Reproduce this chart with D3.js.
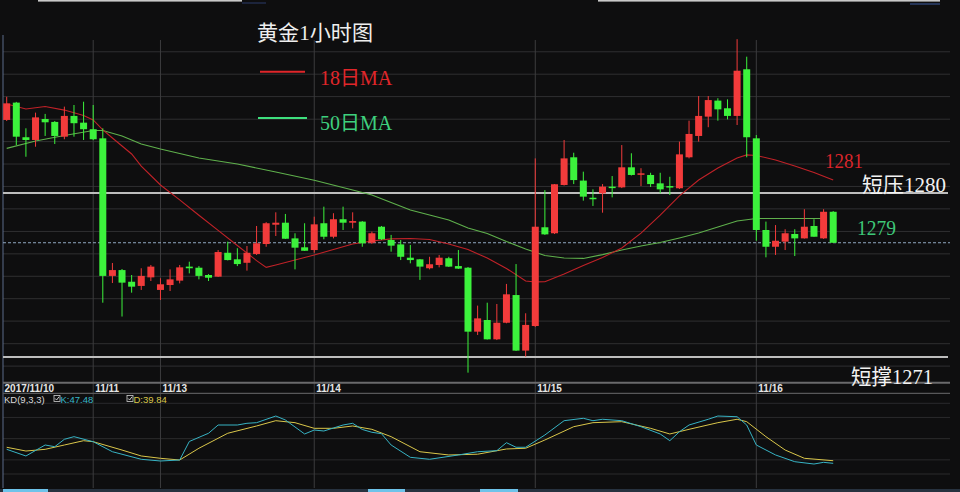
<!DOCTYPE html>
<html><head><meta charset="utf-8">
<script src="https://cdn.jsdelivr.net/npm/d3@7"></script>
<style>html,body{margin:0;padding:0;background:#0e0e0f;overflow:hidden}</style>
</head><body><svg id="c" width="960" height="492"></svg>
<script>
// ---------- data ----------
const opens  = [1284.01,1284.96,1283.06,1282.91,1284.06,1283.90,1283.09,1284.23,1283.86,1283.50,
                1283.00,1275.45,1275.77,1275.13,1274.90,1275.37,1274.68,1274.95,1275.19,1275.96,
                1275.90,1275.50,1275.41,1276.72,1276.36,1276.17,1276.65,1277.20,1278.26,1278.37,
                1277.51,1277.02,1276.87,1278.34,1277.60,1278.56,1278.37,1278.43,1277.27,1278.15,
                1277.42,1277.18,1276.45,1276.36,1275.87,1276.05,1276.42,1275.99,1275.90,1272.39,
                1273.03,1271.97,1272.88,1274.40,1271.35,1272.70,1278.12,1277.79,1280.44,1281.96,
                1280.68,1279.74,1279.98,1280.35,1280.31,1281.41,1281.03,1280.99,1280.53,1280.38,
                1280.26,1281.96,1283.13,1284.19,1285.07,1284.65,1284.23,1286.79,1283.00,1277.97,
                1277.05,1277.33,1277.75,1277.51,1278.19,1277.51,1278.97];
const highs  = [1285.28,1285.00,1283.55,1284.41,1284.34,1283.95,1284.74,1284.83,1285.01,1284.83,
                1283.55,1276.16,1275.83,1275.50,1275.87,1276.05,1275.32,1275.81,1276.05,1276.23,
                1275.99,1275.55,1276.87,1277.33,1276.97,1277.09,1278.19,1278.40,1278.94,1278.85,
                1277.79,1278.34,1278.70,1279.25,1278.89,1279.25,1278.94,1278.46,1277.88,1278.19,
                1277.70,1277.42,1277.15,1276.38,1276.50,1276.60,1276.50,1276.87,1275.94,1273.82,
                1273.98,1273.91,1275.01,1276.10,1273.40,1281.90,1280.16,1280.49,1282.91,1282.21,
                1281.17,1280.20,1280.49,1280.93,1282.63,1282.18,1281.36,1281.11,1281.11,1280.89,
                1282.82,1283.97,1285.32,1285.32,1285.20,1285.14,1288.44,1287.48,1283.18,1278.43,
                1278.24,1278.01,1278.01,1279.11,1278.56,1279.11,1279.01];
const lows   = [1283.95,1282.63,1281.99,1282.54,1283.13,1282.69,1282.95,1283.09,1282.91,1282.90,
                1273.98,1275.06,1273.22,1274.53,1274.68,1275.17,1274.13,1274.62,1275.04,1275.59,
                1275.26,1275.17,1275.39,1276.30,1275.99,1275.74,1276.60,1277.05,1277.64,1277.48,
                1275.81,1276.82,1276.72,1277.46,1277.51,1277.97,1278.06,1277.05,1277.20,1277.42,
                1276.78,1276.32,1276.14,1275.23,1275.81,1275.92,1275.94,1275.83,1270.14,1272.21,
                1271.96,1271.93,1272.85,1271.33,1271.02,1272.65,1277.70,1277.75,1280.41,1280.49,
                1279.58,1279.29,1278.92,1279.76,1280.27,1280.96,1280.38,1280.33,1279.98,1279.89,
                1280.22,1281.90,1282.82,1283.61,1283.97,1284.04,1283.73,1281.96,1277.38,1276.47,
                1276.60,1276.87,1276.54,1277.50,1277.60,1277.48,1277.26];
const closes = [1284.92,1283.09,1282.91,1284.15,1283.88,1283.13,1284.23,1283.83,1283.50,1282.95,
                1275.45,1275.77,1275.08,1274.86,1275.45,1275.96,1274.99,1275.26,1275.92,1275.87,
                1275.45,1275.35,1276.76,1276.32,1276.10,1276.72,1277.24,1278.34,1278.37,1277.49,
                1277.00,1276.83,1278.28,1277.60,1278.56,1278.37,1278.46,1277.24,1277.79,1277.46,
                1277.11,1276.50,1276.32,1275.96,1276.09,1276.45,1275.96,1275.85,1272.39,1273.12,
                1271.97,1272.88,1274.44,1271.35,1272.76,1278.15,1277.73,1280.48,1281.90,1280.71,
                1279.80,1279.69,1280.35,1280.31,1281.41,1280.99,1281.08,1280.49,1280.20,1280.35,
                1282.12,1283.24,1284.23,1285.10,1284.59,1284.23,1286.71,1283.06,1277.97,1277.05,
                1277.38,1277.79,1277.51,1278.15,1277.60,1278.97,1277.27];

const dateTickIdx = [0, 9, 16, 32, 55, 78];
const dateLabels  = ["2017/11/10", "11/11", "11/13", "11/14", "11/15", "11/16"];

const ma18Idx = [0,2,4,6,8,9,10,11,12,13,14,16,18,20,22,24,26,27,28,30,32,34,36,38,40,42,44,46,48,50,52,54,55,56,58,60,62,64,66,68,70,72,74,76,77,78,80,82,84,86];
const ma18    = [1284.88,1284.61,1284.75,1284.55,1284.25,1284.01,1283.46,1283.02,1282.58,1282.14,1281.48,1280.44,1279.62,1278.78,1277.95,1277.12,1276.29,1275.92,1276.05,1276.32,1276.60,1276.90,1277.20,1277.37,1277.48,1277.50,1277.45,1277.20,1276.90,1276.43,1275.86,1275.17,1275.12,1275.13,1275.55,1276.02,1276.46,1276.98,1277.80,1278.79,1279.84,1280.71,1281.37,1281.92,1282.09,1282.06,1281.81,1281.48,1281.13,1280.71];

const ma50Idx = [0,3,6,9,10,12,14,16,20,24,28,32,36,38,40,42,44,46,48,50,52,54,56,58,60,62,64,66,68,70,72,74,76,78,80,83,85];
const ma50    = [1282.45,1282.85,1283.16,1283.43,1283.43,1283.13,1282.69,1282.41,1281.92,1281.59,1281.15,1280.70,1280.16,1279.89,1279.48,1279.07,1278.79,1278.52,1278.08,1277.78,1277.34,1276.93,1276.57,1276.43,1276.41,1276.62,1276.87,1277.09,1277.28,1277.53,1277.80,1278.13,1278.46,1278.60,1278.60,1278.60,1278.60];

const kIdx  = [0,2,4,5,6,7,9,11,14,16,18,19,21,22,24,25,26,28,29,31,32,33,35,36,37,38,39,40,42,44,47,49,51,52,53,54,56,58,60,61,62,64,66,68,69,70,71,73,74,76,77,78,80,82,84,85,86];
const kVals = [34.9,25.5,41.0,38.6,49.1,52.8,45.7,31.5,20.8,18.4,19.8,46.0,57.6,69.3,69.3,71.7,72.6,82.0,76.4,56.6,62.2,60.8,69.3,71.7,63.0,59.0,57.0,41.0,23.6,20.8,26.9,31.5,33.0,44.3,37.8,37.8,55.2,75.4,78.8,75.4,77.4,75.4,66.9,56.6,47.1,59.8,69.3,77.4,82.0,81.0,69.3,41.0,26.9,17.4,14.1,16.5,15.1];
const dIdx  = [0,2,4,6,8,9,12,14,16,18,20,23,26,28,30,32,34,36,38,40,43,46,49,52,54,56,59,61,64,67,69,71,74,76,77,79,81,83,86];
const dVals = [37.8,32.5,34.9,41.0,47.1,45.7,33.9,25.5,22.2,19.8,36.4,57.6,67.9,75.4,72.6,64.6,64.6,67.9,63.2,52.8,31.5,26.9,28.0,35.4,36.4,48.1,66.9,72.6,74.0,64.6,56.6,63.2,72.6,77.4,74.0,52.8,33.9,22.2,18.8];

const priceGrid = [1287.75,1286.52,1285.29,1284.05,1282.82,1281.59,1280.36,1279.13,1277.89,1276.66,1275.43,1274.20,1272.97,1271.73,1270.50];
const kdGrid = [0, 20, 50, 80, 100];
const resistance = 1280, support = 1271;
const labelMA18 = 1281, labelMA50 = 1279;

// ---------- drawing ----------
const svg = d3.select("#c");
svg.append("rect").attr("width",960).attr("height",492).attr("fill","#0e0e0f");

const L = 3, R = 950;
const x = d3.scaleLinear().domain([0, closes.length-1]).range([6.7, 833.2]);
const y = d3.scaleLinear().domain([support, resistance]).range([357, 193]);
const ky = d3.scaleLinear().domain([0,100]).range([474, 403.3]);

// top decoration bars
svg.append("rect").attr("x",38).attr("y",0).attr("width",204).attr("height",1.6).attr("fill","#c8c8c8");
svg.append("rect").attr("x",242).attr("y",2.5).attr("width",24).attr("height",1).attr("fill","#2a3a6a");
svg.append("rect").attr("x",598).attr("y",0).attr("width",342).attr("height",1.6).attr("fill","#c8c8c8");
svg.append("rect").attr("x",910).attr("y",3.5).attr("width",30).attr("height",1).attr("fill","#3a5aa0");

// price grid
svg.append("g").selectAll("line").data(priceGrid).join("line")
  .attr("x1",L).attr("x2",R).attr("y1",d=>y(d)).attr("y2",d=>y(d))
  .attr("stroke","#2f2f31").attr("stroke-width",1);
// kd grid
svg.append("g").selectAll("line").data(kdGrid).join("line")
  .attr("x1",L).attr("x2",R).attr("y1",d=>ky(d)).attr("y2",d=>ky(d))
  .attr("stroke","#2a2a2c").attr("stroke-width",1);

// vertical date lines
svg.append("g").selectAll("line").data(dateTickIdx.slice(1)).join("line")
  .attr("x1",d=>x(d)).attr("x2",d=>x(d)).attr("y1",40).attr("y2",488)
  .attr("stroke","#3c3c3e").attr("stroke-width",1);
svg.append("line").attr("x1",L).attr("x2",L).attr("y1",35).attr("y2",488)
  .attr("stroke","#5a6a8a").attr("stroke-width",1);

// separator lines around date axis
svg.append("line").attr("x1",L).attr("x2",R).attr("y1",382.7).attr("y2",382.7).attr("stroke","#6a6a6c").attr("stroke-width",2);
svg.append("line").attr("x1",L).attr("x2",R).attr("y1",393.3).attr("y2",393.3).attr("stroke","#58585a").attr("stroke-width",1.3);

// support / resistance
[resistance, support].forEach(v=>{
  svg.append("line").attr("x1",L).attr("x2",R-2).attr("y1",y(v)).attr("y2",y(v))
    .attr("stroke","#bdbdbd").attr("stroke-width",2);
});

// current price dashed
svg.append("line").attr("x1",L).attr("x2",R).attr("y1",y(closes[closes.length-1])).attr("y2",y(closes[closes.length-1]))
  .attr("stroke","#8fa6bf").attr("stroke-width",1).attr("stroke-dasharray","3,2");

// MA lines
const ma18Line = d3.line().x((d,i)=>x(ma18Idx[i])).y(d=>y(d));
const ma50Line = d3.line().x((d,i)=>x(ma50Idx[i])).y(d=>y(d));
svg.append("path").attr("d",ma50Line(ma50)).attr("fill","none").attr("stroke","#5fb04c").attr("stroke-width",1.1);
svg.append("path").attr("d",ma18Line(ma18)).attr("fill","none").attr("stroke","#c02228").attr("stroke-width",1.1);

// candles
const idx = d3.range(closes.length);
const up = i => closes[i] > opens[i];
const colUp = "#f23b3b", colDn = "#3cf23c";
const cg = svg.append("g");
cg.selectAll("line").data(idx).join("line")
  .attr("x1",i=>x(i)).attr("x2",i=>x(i))
  .attr("y1",i=>y(highs[i])).attr("y2",i=>y(lows[i]))
  .attr("stroke",i=>up(i)?colUp:colDn).attr("stroke-width",1);
const bw = 7;
cg.selectAll("rect").data(idx).join("rect")
  .attr("x",i=>x(i)-bw/2).attr("width",bw)
  .attr("y",i=>Math.min(y(opens[i]),y(closes[i])))
  .attr("height",i=>Math.max(1.5,Math.abs(y(opens[i])-y(closes[i]))))
  .attr("fill",i=>up(i)?colUp:colDn);

// KD lines
const kLine = d3.line().x((d,i)=>x(kIdx[i])).y(d=>ky(d));
const dLine = d3.line().x((d,i)=>x(dIdx[i])).y(d=>ky(d));
svg.append("path").attr("d",dLine(dVals)).attr("fill","none").attr("stroke","#d9c64a").attr("stroke-width",1);
svg.append("path").attr("d",kLine(kVals)).attr("fill","none").attr("stroke","#37b3c4").attr("stroke-width",1);

// date axis
const axis = d3.axisBottom(x).tickValues(dateTickIdx).tickSize(0)
  .tickFormat((d,i)=>dateLabels[i]);
const ag = svg.append("g").attr("transform","translate(0,382)").call(axis);
ag.select(".domain").remove();
ag.selectAll("text").attr("text-anchor","start")
  .attr("dx",(d,i)=> i===0 ? -2.7 : 1.5).attr("dy",0).attr("y",9.5)
  .attr("fill","#e6e6e6").style("font-family","'Liberation Sans',Arial,sans-serif")
  .style("font-size","10px").style("font-weight","bold");

// KD legend
const lg = svg.append("g").style("font-family","'Liberation Sans',Arial,sans-serif").style("font-size","9.5px");
lg.append("text").attr("x",4).attr("y",402.5).attr("fill","#d8d8d8").text("KD(9,3,3)");
function checkbox(cx){
  lg.append("rect").attr("x",cx).attr("y",395.5).attr("width",6).attr("height",6).attr("fill","none").attr("stroke","#d0d0d0").attr("stroke-width",0.8);
  lg.append("path").attr("d",`M${cx+1.2},${398.5} L${cx+2.6},${400} L${cx+5},${396.8}`).attr("fill","none").attr("stroke","#e0e0e0").attr("stroke-width",0.9);
}
checkbox(54); checkbox(127);
lg.append("text").attr("x",60.5).attr("y",402.5).attr("fill","#36b6c8").text("K:" + "47.48");
lg.append("text").attr("x",133.5).attr("y",402.5).attr("fill","#d9c64a").text("D:" + "39.84");

// title & legend
const serif = "'Liberation Serif','Times New Roman','Noto Sans CJK SC',serif";
svg.append("text").attr("x",257).attr("y",40).attr("fill","#eeeeee")
  .style("font-family","'Liberation Serif','Noto Sans CJK SC',serif").style("font-size","21px")
  .attr("textLength",116).attr("lengthAdjust","spacingAndGlyphs").text("黄金1小时图");
svg.append("line").attr("x1",260).attr("x2",305).attr("y1",71.7).attr("y2",71.7).attr("stroke","#e0262a").attr("stroke-width",2);
svg.append("text").attr("x",320).attr("y",84.5).attr("fill","#e0262a").style("font-family",serif).style("font-size","20px").text("18日MA");
svg.append("line").attr("x1",258).attr("x2",307).attr("y1",118).attr("y2",118).attr("stroke","#3ee07e").attr("stroke-width",2);
svg.append("text").attr("x",320).attr("y",130).attr("fill","#3ed07e").style("font-family",serif).style("font-size","20px").text("50日MA");

// right annotations
svg.append("text").attr("x",825).attr("y",168.3).attr("fill","#d8252a").style("font-family",serif).style("font-size","22px")
  .attr("textLength",38).attr("lengthAdjust","spacingAndGlyphs").text(String(labelMA18));
svg.append("text").attr("x",862).attr("y",191.5).attr("fill","#f2f2f2").style("font-family",serif).style("font-size","21px")
  .attr("textLength",84).attr("lengthAdjust","spacingAndGlyphs").text("短压" + resistance);
svg.append("text").attr("x",857).attr("y",235).attr("fill","#3ec878").style("font-family",serif).style("font-size","22px")
  .attr("textLength",39).attr("lengthAdjust","spacingAndGlyphs").text(String(labelMA50));
svg.append("text").attr("x",851).attr("y",384).attr("fill","#f2f2f2").style("font-family",serif).style("font-size","21px")
  .attr("textLength",82).attr("lengthAdjust","spacingAndGlyphs").text("短撑" + support);

// bottom scrollbar
svg.append("rect").attr("x",0).attr("y",489).attr("width",960).attr("height",3).attr("fill","#27323f");
[[3,45],[368,37],[480,38]].forEach(s=>{
  svg.append("rect").attr("x",s[0]).attr("y",489).attr("width",s[1]).attr("height",3).attr("fill","#6ec3ea");
});
</script></body></html>
